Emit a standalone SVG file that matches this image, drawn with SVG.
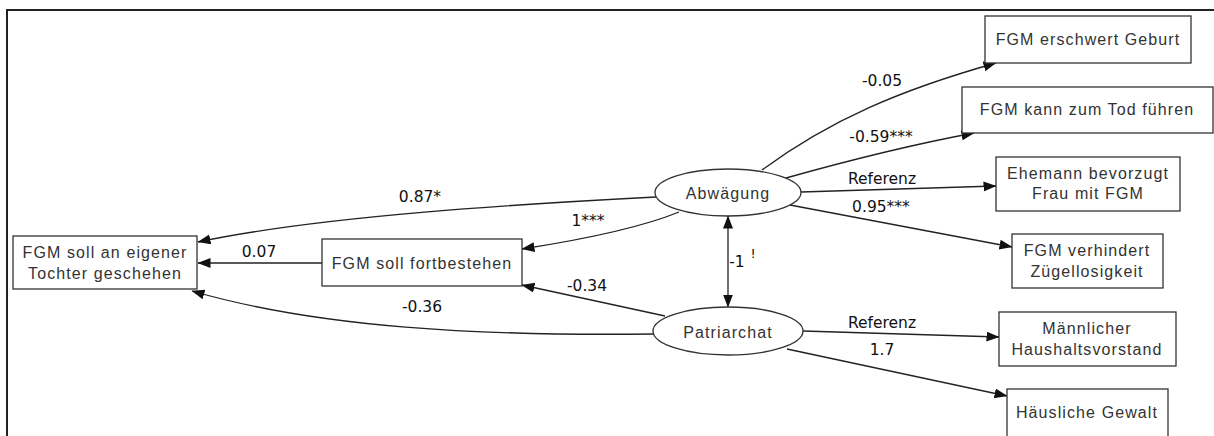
<svg xmlns="http://www.w3.org/2000/svg" width="1214" height="436" viewBox="0 0 1214 436">
<style>
.box{fill:#fff;stroke:#333;stroke-width:1.3}
.ell{fill:#fff;stroke:#333;stroke-width:1.3}
.nt{font-family:"Liberation Sans",Arial,sans-serif;font-size:16px;letter-spacing:1.1px;fill:#333;text-anchor:middle}
.et{font-family:"DejaVu Sans",sans-serif;font-size:15.5px;fill:#111;text-anchor:middle}
.e{fill:none;stroke:#222;stroke-width:1.3;marker-end:url(#ah)}
</style>
<defs>
<marker id="ah" markerUnits="userSpaceOnUse" markerWidth="14" markerHeight="12" refX="12.5" refY="5" orient="auto-start-reverse" viewBox="0 0 14 12">
<path d="M0,0 L13,5 L0,10 z" fill="#111"/>
</marker>
</defs>
<rect x="7" y="10" width="1220" height="440" fill="#fff" stroke="#222" stroke-width="2"/>
<g id="connectors">
<path class="e" d="M656,197 C520,204 320,216 198,242"/>
<path class="e" d="M679,212 C640,228 580,240 522,249"/>
<path class="e" d="M322,263 L198,263"/>
<path class="e" d="M665,316 L522,285"/>
<path class="e" d="M653,334 C480,336 320,328 192,291"/>
<path class="e" d="M762,170 C830,120 900,90 996,63"/>
<path class="e" d="M786,178 C850,160 910,145 974,133"/>
<path class="e" d="M801,192 L996,186"/>
<path class="e" d="M790,205 L1012,247"/>
<path class="e" d="M803,331 L999,337"/>
<path class="e" d="M787,349 L1007,396"/>
<path class="e" d="M728,216 L728,307" style="marker-start:url(#ah)"/>
<text class="et" x="420" y="202">0.87*</text>
<text class="et" x="588" y="226">1***</text>
<text class="et" x="259" y="257">0.07</text>
<text class="et" x="587" y="291">-0.34</text>
<text class="et" x="422" y="312">-0.36</text>
<text class="et" x="882" y="86">-0.05</text>
<text class="et" x="881" y="142">-0.59***</text>
<text class="et" x="882" y="184">Referenz</text>
<text class="et" x="881" y="212">0.95***</text>
<text class="et" x="882" y="328">Referenz</text>
<text class="et" x="882" y="355">1.7</text>
<text class="et" x="737" y="267">-1</text>
<text class="et" x="753" y="258" style="font-size:13px">!</text>
</g>
<g id="tochter"><rect class="box" x="13" y="236" width="184" height="53"/><text class="nt" x="105" y="258">FGM soll an eigener</text><text class="nt" x="105" y="279">Tochter geschehen</text></g>
<g id="fortbestehen"><rect class="box" x="322" y="239" width="200" height="47"/><text class="nt" x="422" y="269">FGM soll fortbestehen</text></g>
<g id="abwaegung"><ellipse class="ell" cx="728" cy="192.5" rx="73" ry="23.5"/><text class="nt" x="728" y="199">Abwägung</text></g>
<g id="patriarchat"><ellipse class="ell" cx="728" cy="331" rx="75" ry="24"/><text class="nt" x="728" y="338">Patriarchat</text></g>
<g id="geburt"><rect class="box" x="985" y="16" width="206" height="47"/><text class="nt" x="1088" y="45">FGM erschwert Geburt</text></g>
<g id="tod"><rect class="box" x="962" y="87" width="251" height="46"/><text class="nt" x="1087" y="115">FGM kann zum Tod führen</text></g>
<g id="ehemann"><rect class="box" x="996" y="157" width="184" height="54"/><text class="nt" x="1088" y="179">Ehemann bevorzugt</text><text class="nt" x="1088" y="199">Frau mit FGM</text></g>
<g id="zuegellos"><rect class="box" x="1012" y="234" width="151" height="54"/><text class="nt" x="1087" y="256">FGM verhindert</text><text class="nt" x="1087" y="277">Zügellosigkeit</text></g>
<g id="haushalt"><rect class="box" x="999" y="312" width="177" height="54"/><text class="nt" x="1087" y="334">Männlicher</text><text class="nt" x="1087" y="355">Haushaltsvorstand</text></g>
<g id="gewalt"><rect class="box" x="1007" y="389" width="161" height="48"/><text class="nt" x="1087" y="418">Häusliche Gewalt</text></g>
</svg>
